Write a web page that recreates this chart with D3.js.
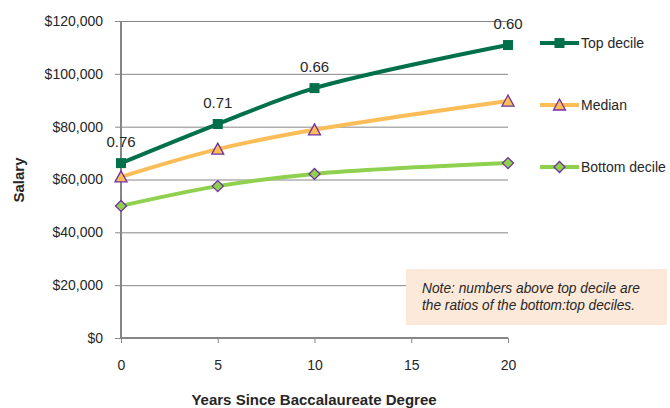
<!DOCTYPE html>
<html>
<head>
<meta charset="utf-8">
<script src="https://cdn.jsdelivr.net/npm/d3@7"></script>
<style>
  body { margin: 0; background: #fff; }
  svg { font-family: "Liberation Sans", Arial, sans-serif; }
</style>
</head>
<body>
<div id="chart"></div>
<script>
const years = [0, 5, 10, 20];
const topDecile = [66200, 81000, 94600, 110900];
const median = [61000, 71500, 78800, 89700];
const bottomDecile = [50000, 57500, 62100, 66200];
const ratioLabels = ["0.76", "0.71", "0.66", "0.60"];
const yTicks = [0, 20000, 40000, 60000, 80000, 100000, 120000];
const xTicks = [0, 5, 10, 15, 20];
const noteLines = ["Note: numbers above top decile are", "the ratios of the bottom:top deciles."];

const width = 670, height = 408;
const margin = { top: 21, left: 121 };
const innerW = 508 - 121, innerH = 338 - 21;

const svg = d3.select("#chart").append("svg")
    .attr("width", width)
    .attr("height", height);

const g = svg.append("g").attr("transform", `translate(${margin.left},${margin.top})`);

const x = d3.scaleLinear().domain([0, 20]).range([0, innerW]);
const y = d3.scaleLinear().domain([0, 120000]).range([innerH, 0]);

const axisColor = "#868686";
const textColor = "#262626";

// grid
g.append("g")
    .call(d3.axisLeft(y).tickValues(yTicks).tickSize(-innerW).tickFormat(""))
    .call(g => g.selectAll("line").attr("stroke", axisColor).attr("stroke-width", 1))
    .call(g => g.select(".domain").remove());

// y axis
g.append("g")
    .call(d3.axisLeft(y).tickValues(yTicks).tickSize(6).tickPadding(12).tickFormat(d => "$" + d3.format(",")(d)))
    .call(g => g.selectAll("line").attr("stroke", axisColor))
    .call(g => g.select(".domain").attr("stroke", axisColor).attr("stroke-width", 2).attr("d", `M0,0V${innerH}`))
    .call(g => g.selectAll("text").attr("fill", textColor).style("font-size", "14px"));

// x axis
g.append("g")
    .attr("transform", `translate(0,${innerH})`)
    .call(d3.axisBottom(x).tickValues(xTicks).tickSize(5).tickPadding(17))
    .call(g => g.selectAll("line").attr("stroke", axisColor))
    .call(g => g.select(".domain").attr("stroke", axisColor).attr("stroke-width", 2).attr("d", `M0,0H${innerW}`))
    .call(g => g.selectAll("text").attr("fill", textColor).style("font-size", "14px"));

// titles
svg.append("text")
    .attr("x", 314).attr("y", 405)
    .attr("text-anchor", "middle")
    .attr("fill", textColor)
    .style("font-size", "15px").style("font-weight", "bold")
    .text("Years Since Baccalaureate Degree");

svg.append("text")
    .attr("transform", "translate(24,180) rotate(-90)")
    .attr("text-anchor", "middle")
    .attr("fill", textColor)
    .style("font-size", "15px").style("font-weight", "bold")
    .text("Salary");

const series = [
    { name: "Top decile", values: topDecile, color: "#00704a", marker: "square" },
    { name: "Median", values: median, color: "#fbbd57", marker: "triangle" },
    { name: "Bottom decile", values: bottomDecile, color: "#8fd14f", marker: "diamond" }
];

const line = d3.line()
    .x((d, i) => x(years[i]))
    .y(d => y(d))
    .curve(d3.curveCatmullRom.alpha(0.5));

function drawMarker(sel, s, cx, cy) {
    if (s.marker === "square") {
        sel.append("rect")
            .attr("x", cx - 5).attr("y", cy - 5)
            .attr("width", 10).attr("height", 10)
            .attr("fill", s.color);
    } else if (s.marker === "triangle") {
        sel.append("path")
            .attr("d", `M${cx},${cy - 6}L${cx + 6},${cy + 5}L${cx - 6},${cy + 5}Z`)
            .attr("fill", s.color).attr("stroke", "#7030a0").attr("stroke-width", 1.3);
    } else {
        sel.append("path")
            .attr("d", `M${cx},${cy - 5.5}L${cx + 5.5},${cy}L${cx},${cy + 5.5}L${cx - 5.5},${cy}Z`)
            .attr("fill", s.color).attr("stroke", "#7030a0").attr("stroke-width", 1.3);
    }
}

// draw bottom first so top is on top
series.slice().reverse().forEach(s => {
    g.append("path")
        .datum(s.values)
        .attr("fill", "none")
        .attr("stroke", s.color)
        .attr("stroke-width", 4)
        .attr("d", line);
    const mg = g.append("g");
    s.values.forEach((v, i) => drawMarker(mg, s, x(years[i]), y(v)));
});

// ratio labels above top decile
g.selectAll("text.ratio")
    .data(topDecile)
    .enter()
    .append("text")
    .attr("class", "ratio")
    .attr("x", (d, i) => x(years[i]))
    .attr("y", d => y(d) - 16)
    .attr("text-anchor", "middle")
    .attr("fill", textColor)
    .style("font-size", "15px")
    .text((d, i) => ratioLabels[i]);

// legend
const legend = svg.append("g");
const legendY = [43, 105, 167];
series.forEach((s, i) => {
    const lg = legend.append("g");
    lg.append("line")
        .attr("x1", 540).attr("x2", 579)
        .attr("y1", legendY[i]).attr("y2", legendY[i])
        .attr("stroke", s.color).attr("stroke-width", 4);
    drawMarker(lg, s, 559.5, legendY[i]);
    lg.append("text")
        .attr("x", 581).attr("y", legendY[i] + 5)
        .attr("fill", textColor)
        .style("font-size", "14px")
        .text(s.name);
});

// note box
svg.append("rect")
    .attr("x", 406).attr("y", 269)
    .attr("width", 261).attr("height", 56)
    .attr("fill", "#fde9d9");

const noteWidths = [218, 213];
svg.selectAll("text.note")
    .data(noteLines)
    .enter()
    .append("text")
    .attr("class", "note")
    .attr("x", 422)
    .attr("y", (d, i) => 293 + i * 17)
    .attr("textLength", (d, i) => noteWidths[i])
    .attr("lengthAdjust", "spacingAndGlyphs")
    .attr("fill", textColor)
    .style("font-size", "14px")
    .style("font-style", "italic")
    .text(d => d);
</script>
</body>
</html>
